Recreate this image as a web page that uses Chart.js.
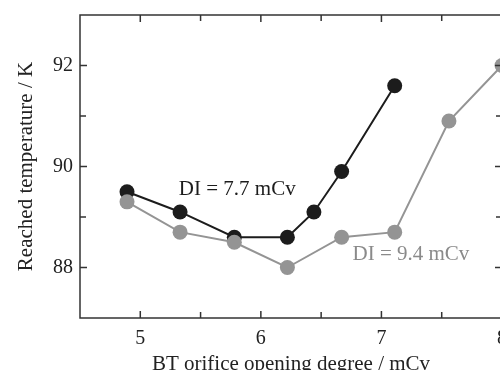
<!DOCTYPE html>
<html>
<head>
<meta charset="utf-8">
<script src="https://cdn.jsdelivr.net/npm/chart.js@4.4.1/dist/chart.umd.min.js"></script>
<style>
  html, body { margin: 0; padding: 0; background: #fff; overflow: hidden; }
  #wrap { width: 520px; height: 380px; }
</style>
</head>
<body>
<div id="wrap"><canvas id="chart" width="520" height="380"></canvas></div>
<script>
// ---- Data ----
const openingBlack = [4.89, 5.33, 5.78, 6.22, 6.44, 6.67, 7.11];
const tempBlack = [89.5, 89.1, 88.6, 88.6, 89.1, 89.9, 91.6];
const openingGray = [4.89, 5.33, 5.78, 6.22, 6.67, 7.11, 7.56, 8.0];
const tempGray = [89.3, 88.7, 88.5, 88.0, 88.6, 88.7, 90.9, 92.0];

const xMajorTicks = [5, 6, 7, 8];
const xMinorTicks = [5.5, 6.5, 7.5];
const yMajorTicks = [88, 90, 92];
const yMinorTicks = [89, 91];

const seriesNames = ['DI = 7.7 mCv', 'DI = 9.4 mCv'];

const BLACK = '#1c1c1c';
const GRAY = '#949494';
const FONT = '"Liberation Serif", "Times New Roman", serif';

const toPoints = (xs, ys) => xs.map((x, i) => ({ x: x, y: ys[i] }));

// Series labels placed in data coordinates
const seriesLabels = [
    { text: seriesNames[0], x: 5.32, y: 89.43, color: BLACK },
    { text: seriesNames[1], x: 6.76, y: 88.14, color: '#8a8a8a' }
];

// Inward tick marks on all four sides, closed frame and the series labels
const frameTicks = {
    id: 'frameTicks',
    afterDraw(chart) {
        const ctx = chart.ctx;
        const area = chart.chartArea;
        const xs = chart.scales.x;
        const ys = chart.scales.y;
        ctx.save();
        ctx.strokeStyle = '#333';
        ctx.lineWidth = 1.5;
        ctx.strokeRect(area.left, area.top, area.right - area.left, area.bottom - area.top);

        ctx.beginPath();
        const xTick = function (v, len) {
            const px = xs.getPixelForValue(v);
            ctx.moveTo(px, area.bottom);
            ctx.lineTo(px, area.bottom - len);
            ctx.moveTo(px, area.top);
            ctx.lineTo(px, area.top + len);
        };
        const yTick = function (v, len) {
            const py = ys.getPixelForValue(v);
            ctx.moveTo(area.left, py);
            ctx.lineTo(area.left + len, py);
            ctx.moveTo(area.right, py);
            ctx.lineTo(area.right - len, py);
        };
        xMajorTicks.forEach(v => xTick(v, 7));
        xMinorTicks.forEach(v => xTick(v, 6));
        yMajorTicks.forEach(v => yTick(v, 7));
        yMinorTicks.forEach(v => yTick(v, 6));
        ctx.stroke();

        ctx.font = '21px ' + FONT;
        ctx.textAlign = 'left';
        ctx.textBaseline = 'alphabetic';
        seriesLabels.forEach(l => {
            ctx.fillStyle = l.color;
            ctx.fillText(l.text, xs.getPixelForValue(l.x), ys.getPixelForValue(l.y));
        });
        ctx.restore();
    }
};

new Chart(document.getElementById('chart').getContext('2d'), {
    type: 'scatter',
    data: {
        datasets: [
            {
                label: seriesNames[1],
                data: toPoints(openingGray, tempGray),
                showLine: true,
                borderColor: GRAY,
                backgroundColor: GRAY,
                borderWidth: 2,
                pointRadius: 7.5,
                pointBorderWidth: 0,
                order: 0
            },
            {
                label: seriesNames[0],
                data: toPoints(openingBlack, tempBlack),
                showLine: true,
                borderColor: BLACK,
                backgroundColor: BLACK,
                borderWidth: 2,
                pointRadius: 7.5,
                pointBorderWidth: 0,
                order: 1
            }
        ]
    },
    options: {
        responsive: false,
        animation: false,
        layout: { padding: { top: 15, right: 18, left: 0, bottom: 0 } },
        plugins: {
            legend: { display: false },
            tooltip: { enabled: false }
        },
        scales: {
            x: {
                type: 'linear',
                min: 4.5,
                max: 8,
                afterFit: function (scale) {
                    scale.height = 62;
                    scale.paddingLeft = 0;
                    scale.paddingRight = 0;
                },
                grid: { drawOnChartArea: false, drawTicks: false },
                border: { display: false },
                ticks: {
                    stepSize: 0.5,
                    padding: 9,
                    color: '#222',
                    font: { family: FONT, size: 20 },
                    maxRotation: 0,
                    autoSkip: false,
                    callback: v => (xMajorTicks.includes(v) ? String(v) : '')
                },
                title: {
                    display: true,
                    text: 'BT orifice opening degree / mCv',
                    color: '#222',
                    font: { family: FONT, size: 21 },
                    padding: { top: 0, bottom: 3 }
                }
            },
            y: {
                type: 'linear',
                min: 87,
                max: 93,
                afterFit: function (scale) {
                    scale.width = 80;
                    scale.paddingTop = 0;
                    scale.paddingBottom = 0;
                },
                grid: { drawOnChartArea: false, drawTicks: false },
                border: { display: false },
                ticks: {
                    stepSize: 1,
                    padding: 7,
                    color: '#222',
                    font: { family: FONT, size: 20 },
                    callback: v => (yMajorTicks.includes(v) ? String(v) : '')
                },
                title: {
                    display: true,
                    text: 'Reached temperature / K',
                    color: '#222',
                    font: { family: FONT, size: 21 },
                    padding: { top: 14, bottom: 10 }
                }
            }
        }
    },
    plugins: [frameTicks]
});
</script>
</body>
</html>
